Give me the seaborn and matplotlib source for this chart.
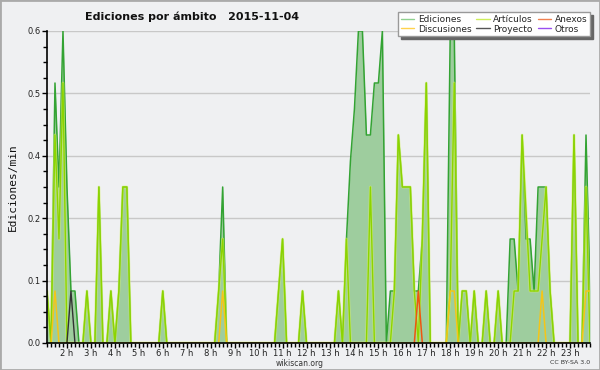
import numpy as np
import pandas as pd
import matplotlib
matplotlib.use("Agg")
import matplotlib.pyplot as plt
from matplotlib.lines import Line2D
from matplotlib.patches import Rectangle
from matplotlib.ticker import MultipleLocator, FormatStrFormatter
import seaborn as sns

# 10 minute bins, 01:10 -> 23:50, values are edits per minute (0 where not listed)
start_min, end_min, step_min = 70, 1430, 10

ediciones = {
    "01:10": 0.1, "01:30": 0.5, "01:40": 0.3, "01:50": 0.6, "02:00": 0.3, "02:10": 0.1, "02:20": 0.1,
    "02:50": 0.1, "03:20": 0.3, "03:50": 0.1, "04:10": 0.1, "04:20": 0.3, "04:30": 0.3,
    "06:00": 0.1, "08:20": 0.1, "08:30": 0.3, "10:50": 0.1, "11:00": 0.2, "11:50": 0.1,
    "13:20": 0.1, "13:40": 0.2, "13:50": 0.35, "14:00": 0.45, "14:10": 0.6, "14:20": 0.6,
    "14:30": 0.4, "14:40": 0.4, "14:50": 0.5, "15:00": 0.5, "15:10": 0.6,
    "15:30": 0.1, "15:40": 0.1, "15:50": 0.4, "16:00": 0.3, "16:10": 0.3, "16:20": 0.3,
    "16:30": 0.1, "16:40": 0.1, "16:50": 0.2, "17:00": 0.5,
    "18:00": 0.6, "18:10": 0.6, "18:30": 0.1, "18:40": 0.1, "19:00": 0.1, "19:30": 0.1, "20:00": 0.1,
    "20:30": 0.2, "20:40": 0.2, "20:50": 0.1, "21:00": 0.4, "21:10": 0.2, "21:20": 0.2,
    "21:30": 0.1, "21:40": 0.3, "21:50": 0.3, "22:00": 0.3, "22:10": 0.1,
    "23:10": 0.4, "23:40": 0.4, "23:50": 0.1,
}
articulos = {
    "01:10": 0.1, "01:30": 0.4, "01:40": 0.2, "01:50": 0.5,
    "02:50": 0.1, "03:20": 0.3, "03:50": 0.1, "04:10": 0.1, "04:20": 0.3, "04:30": 0.3,
    "06:00": 0.1, "08:20": 0.1, "08:30": 0.2, "10:50": 0.1, "11:00": 0.2, "11:50": 0.1,
    "13:20": 0.1, "13:40": 0.2, "14:40": 0.3,
    "15:40": 0.1, "15:50": 0.4, "16:00": 0.3, "16:10": 0.3, "16:20": 0.3, "16:30": 0.1,
    "16:50": 0.2, "17:00": 0.5, "18:00": 0.1, "18:10": 0.5,
    "18:30": 0.1, "18:40": 0.1, "19:00": 0.1, "19:30": 0.1, "20:00": 0.1,
    "20:40": 0.1, "20:50": 0.1, "21:00": 0.4, "21:10": 0.25, "21:20": 0.1, "21:30": 0.1,
    "21:40": 0.1, "21:50": 0.2, "22:00": 0.3, "22:10": 0.1,
    "23:10": 0.4, "23:40": 0.3,
}
discusiones = {"01:30": 0.1, "08:30": 0.1, "18:00": 0.1, "18:10": 0.1, "21:50": 0.1,
               "23:40": 0.1, "23:50": 0.1}
anexos = {"16:40": 0.1}
proyecto = {"02:10": 0.1}
otros = {}

hour_ticks = list(range(2, 24))
y_ticks = [0.0, 0.12, 0.24, 0.36, 0.48, 0.6]

times = np.arange(start_min, end_min + step_min, step_min)


def expand(d):
    s = pd.Series(0.0, index=times)
    for hhmm, v in d.items():
        h, m = hhmm.split(":")
        s[int(h) * 60 + int(m)] = v
    return s


df = pd.DataFrame({
    "hora": times / 60.0,
    "Ediciones": expand(ediciones).values,
    "Artículos": expand(articulos).values,
    "Discusiones": expand(discusiones).values,
    "Anexos": expand(anexos).values,
    "Proyecto": expand(proyecto).values,
    "Otros": expand(otros).values,
})


def masked(col):
    # hide long runs on the baseline so the lines do not paint over the axis
    v = df[col].values.copy()
    prev = np.r_[0, v[:-1]]
    nxt = np.r_[v[1:], 0]
    v[(v == 0) & (prev == 0) & (nxt == 0)] = np.nan
    return v


sns.set_style("white")
plt.rcParams['font.family'] = ['DejaVu Sans']
bg = '#eff0f2'

fig, ax = plt.subplots(figsize=(6, 3.7), dpi=100)
fig.patch.set_facecolor(bg)
ax.set_facecolor(bg)
fig.subplots_adjust(left=47 / 600, right=590 / 600, bottom=1 - 343 / 370, top=1 - 31 / 370)

# filled total
ax.fill_between(df["hora"], df["Ediciones"], color='#9ecd9e', lw=0, zorder=1)
plot_df = df[["hora"]].copy()
for c in ["Ediciones", "Artículos", "Discusiones", "Anexos", "Proyecto"]:
    plot_df[c] = masked(c)

sns.lineplot(data=plot_df, x="hora", y="Ediciones", color='#33a333', lw=1.1, ax=ax, zorder=3)
# articulos with a light halo
sns.lineplot(data=plot_df, x="hora", y="Artículos", color='#d6f266', lw=2.0, alpha=0.6, ax=ax, zorder=4)
sns.lineplot(data=plot_df, x="hora", y="Artículos", color='#8cd400', lw=1.0, ax=ax, zorder=5)
sns.lineplot(data=plot_df, x="hora", y="Discusiones", color='#f5c518', lw=1.1, ax=ax, zorder=6)
sns.lineplot(data=plot_df, x="hora", y="Anexos", color='#ee5511', lw=1.1, ax=ax, zorder=6)
sns.lineplot(data=plot_df, x="hora", y="Proyecto", color='#333333', lw=1.0, ax=ax, zorder=6)

ax.set_xlim(start_min / 60, end_min / 60)
ax.set_ylim(0, 0.6)
ax.set_xticks(hour_ticks)
ax.set_xticklabels([f"{h} h" for h in hour_ticks])
ax.xaxis.set_minor_locator(MultipleLocator(1 / 6))
ax.set_yticks(y_ticks)
ax.yaxis.set_major_formatter(FormatStrFormatter('%.1f'))
ax.yaxis.set_minor_locator(MultipleLocator(0.03))
ax.tick_params(axis='both', which='major', direction='out', length=3.5, width=1, color='black',
               labelsize=6, labelcolor='#222222', pad=1, bottom=True, left=True)
ax.tick_params(axis='both', which='minor', direction='out', length=3, width=1, color='black',
               bottom=True, left=True)

ax.set_axisbelow(True)
ax.yaxis.grid(True, color='#c8c8c8', lw=1)
ax.xaxis.grid(False)
sns.despine(ax=ax, top=True, right=True)
for s in ["left", "bottom"]:
    ax.spines[s].set_color('black')
    ax.spines[s].set_linewidth(1.2)
    ax.spines[s].set_zorder(10)

ax.set_xlabel("")
ax.set_ylabel("Ediciones/min", family='DejaVu Sans Mono', fontsize=8, color='#111111', labelpad=7)

fig.text(85 / 600, 1 - 17 / 370, "Ediciones por ámbito   2015-11-04", fontsize=8,
         fontweight='bold', ha='left', va='center', color='#111111')
fig.text(300 / 600, 1 - 358.5 / 370, "wikiscan.org", fontsize=5.5, ha='center', va='top', color='#333333')
fig.text(590 / 600, 1 - 359.5 / 370, "CC BY-SA 3.0", fontsize=4.5, ha='right', va='top', color='#333333')

handles = [
    Line2D([], [], color='#8fd18f', lw=1, label='Ediciones'),
    Line2D([], [], color='#ffd24d', lw=1, label='Discusiones'),
    Line2D([], [], color='#cdee5a', lw=1, label='Artículos'),
    Line2D([], [], color='#555555', lw=1, label='Proyecto'),
    Line2D([], [], color='#f08050', lw=1, label='Anexos'),
    Line2D([], [], color='#9a4ef0', lw=1, label='Otros'),
]
leg = ax.legend(handles=handles, ncol=3, loc='upper right', bbox_to_anchor=(590 / 600, 1 - 12 / 370),
                bbox_transform=fig.transFigure, borderaxespad=0, fontsize=6.5, frameon=True,
                fancybox=False, shadow={'color': '#666666', 'alpha': 1}, handlelength=1.5,
                handletextpad=0.4, columnspacing=0.5, labelspacing=0.1, borderpad=0.3)
leg.get_frame().set_facecolor('white')
leg.get_frame().set_edgecolor('#999999')
leg.get_frame().set_alpha(1)
leg.set_zorder(20)

fig.add_artist(Rectangle((0, 0), 1, 1, transform=fig.transFigure, fill=False,
                         edgecolor='#aaaaaa', lw=2))

fig.savefig("out.png", dpi=100, facecolor=bg)
